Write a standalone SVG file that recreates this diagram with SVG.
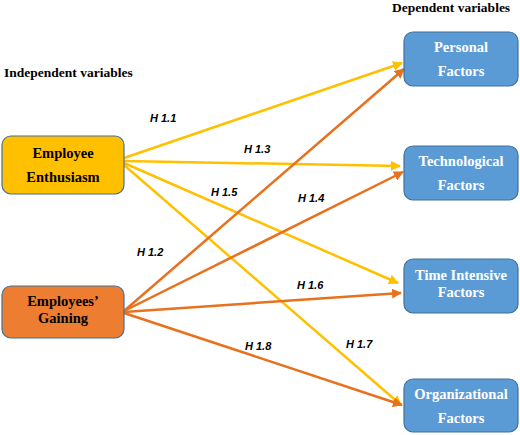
<svg xmlns="http://www.w3.org/2000/svg" width="520" height="435" viewBox="0 0 520 435">
<defs>
<style>
.box{stroke:#41719C;stroke-width:1.2}
.bt{font-family:"Liberation Serif","DejaVu Serif",serif;font-weight:bold;font-size:14.5px;text-anchor:middle}
.hdr{font-family:"Liberation Serif","DejaVu Serif",serif;font-weight:bold;font-size:13.5px;fill:#000}
.lbl{font-family:"Liberation Sans","DejaVu Sans",sans-serif;font-weight:bold;font-style:italic;font-size:11px;fill:#000}
.y{stroke:#FFC000;stroke-width:2.5;fill:none;marker-end:url(#ay)}
.o{stroke:#E8711E;stroke-width:2.5;fill:none;marker-end:url(#ao)}
</style>
<marker id="ay" viewBox="0 0 10 10" refX="9" refY="5" markerWidth="4" markerHeight="4" orient="auto" markerUnits="strokeWidth"><path d="M0,0 L10,5 L0,10 z" fill="#FFC000"/></marker>
<marker id="ao" viewBox="0 0 10 10" refX="9" refY="5" markerWidth="4" markerHeight="4" orient="auto" markerUnits="strokeWidth"><path d="M0,0 L10,5 L0,10 z" fill="#E8711E"/></marker>
</defs>
<rect width="520" height="435" fill="#fff"/>
<text class="hdr" x="4" y="77">Independent variables</text>
<text class="hdr" x="392" y="12">Dependent variables</text>
<g id="connectors">
<line class="y" x1="124" y1="158" x2="402" y2="63"/>
<line class="y" x1="124" y1="161" x2="400" y2="166"/>
<line class="y" x1="124" y1="163" x2="398" y2="283"/>
<line class="y" x1="124" y1="165" x2="401" y2="405"/>
<line class="o" x1="124" y1="311" x2="404" y2="69"/>
<line class="o" x1="124" y1="311" x2="403" y2="172"/>
<line class="o" x1="124" y1="312" x2="401" y2="293"/>
<line class="o" x1="124" y1="313" x2="402" y2="405"/>
</g>
<g id="labels">
<text class="lbl" x="150" y="122">H 1.1</text>
<text class="lbl" x="244" y="153">H 1.3</text>
<text class="lbl" x="211" y="196">H 1.5</text>
<text class="lbl" x="298" y="202">H 1.4</text>
<text class="lbl" x="137" y="256">H 1.2</text>
<text class="lbl" x="297" y="289">H 1.6</text>
<text class="lbl" x="245" y="350">H 1.8</text>
<text class="lbl" x="346" y="348">H 1.7</text>
</g>
<g id="enthusiasm">
<rect class="box" x="2" y="136" width="122" height="58" rx="9" fill="#FFC000"/>
<text class="bt" x="63" y="158" fill="#000">Employee</text>
<text class="bt" x="63" y="182" fill="#000">Enthusiasm</text>
</g>
<g id="gaining">
<rect class="box" x="2" y="286" width="122" height="52" rx="9" fill="#ED7D31" stroke="#ED7D31"/>
<text class="bt" x="63" y="306" fill="#000">Employees’</text>
<text class="bt" x="63" y="323" fill="#000">Gaining</text>
</g>
<g id="personal">
<rect class="box" x="404" y="32" width="114" height="54" rx="9" fill="#5B9BD5"/>
<text class="bt" x="461" y="52" fill="#fff">Personal</text>
<text class="bt" x="461" y="76" fill="#fff">Factors</text>
</g>
<g id="technological">
<rect class="box" x="404" y="146" width="114" height="54" rx="9" fill="#5B9BD5"/>
<text class="bt" x="461" y="166" fill="#fff">Technological</text>
<text class="bt" x="461" y="190" fill="#fff">Factors</text>
</g>
<g id="timeintensive">
<rect class="box" x="404" y="259" width="114" height="54" rx="9" fill="#5B9BD5"/>
<text class="bt" x="461" y="280" fill="#fff">Time Intensive</text>
<text class="bt" x="461" y="297" fill="#fff">Factors</text>
</g>
<g id="organizational">
<rect class="box" x="404" y="379" width="114" height="53" rx="9" fill="#5B9BD5"/>
<text class="bt" x="461" y="399" fill="#fff">Organizational</text>
<text class="bt" x="461" y="423" fill="#fff">Factors</text>
</g>
</svg>
